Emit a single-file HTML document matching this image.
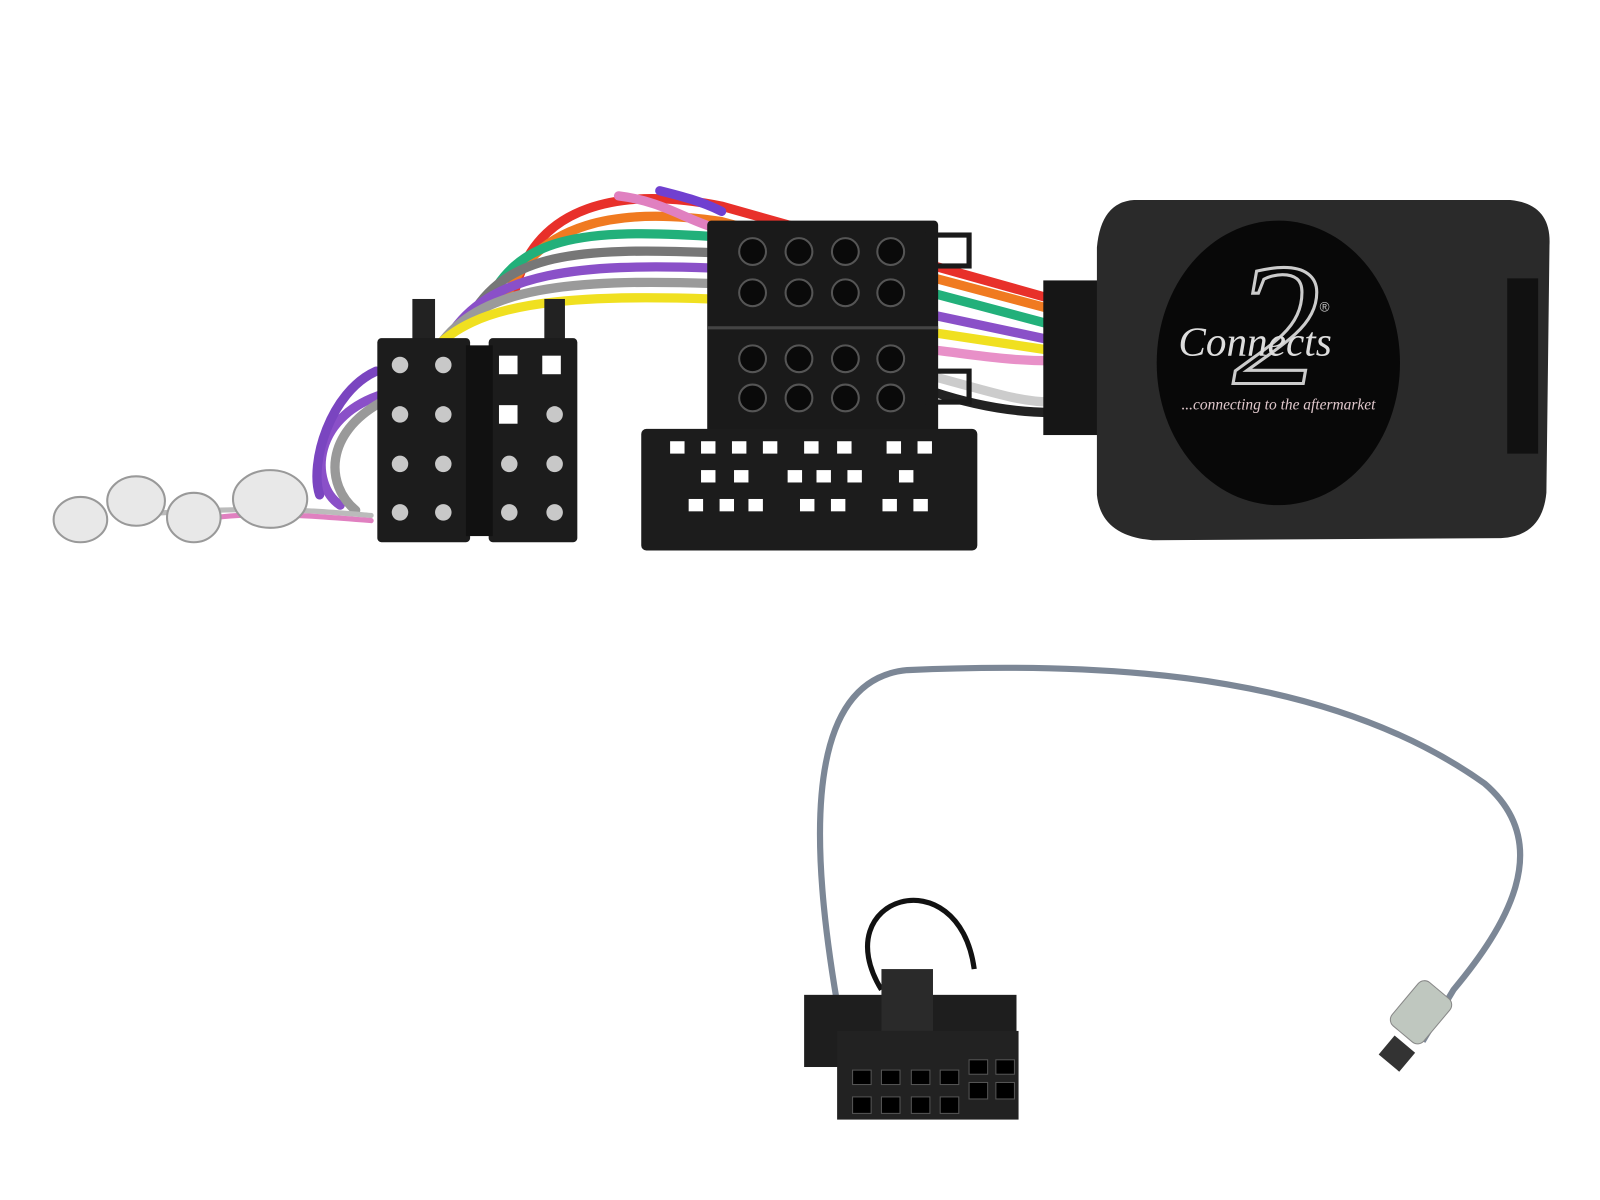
<!DOCTYPE html>
<html><head><meta charset="utf-8"><style>
html,body{margin:0;padding:0;background:#fff;width:1600px;height:1200px;overflow:hidden}
svg{display:block}
</style></head><body>
<svg width="1600" height="1200" viewBox="0 0 1552 1164" xmlns="http://www.w3.org/2000/svg">
<rect width="1552" height="1164" fill="#fff"/>
<!-- wires bundle top -->
<g fill="none" stroke-width="9" stroke-linecap="round">
<path d="M500 280 C520 200,600 180,700 200 L1020 290" stroke="#e8302a"/>
<path d="M490 290 C520 215,600 200,700 215 L1020 300" stroke="#f07a20"/>
<path d="M470 300 C500 230,560 220,700 230 L1020 315" stroke="#22b07a"/>
<path d="M455 310 C490 245,560 240,690 245" stroke="#777"/>
<path d="M440 320 C480 265,560 255,690 260 L1020 330" stroke="#8a50c8"/>
<path d="M430 330 C470 280,550 270,690 275" stroke="#9a9a9a"/>
<path d="M420 340 C460 295,540 285,690 290 L1020 340" stroke="#f0e020"/>
<path d="M600 190 C640 195,660 210,690 220" stroke="#e080c0"/>
<path d="M640 185 C660 190,680 195,700 205" stroke="#7040d0"/>
<path d="M910 340 C950 345,980 350,1020 350" stroke="#e890c8"/>
<path d="M905 380 C950 395,990 400,1020 400" stroke="#222"/>
<path d="M905 365 C960 380,990 390,1020 390" stroke="#ccc"/>
<path d="M380 380 C300 400,300 470,330 490" stroke="#8a50c8"/>
<path d="M370 390 C315 420,315 470,345 495" stroke="#999"/>
<path d="M365 360 C320 380,300 450,310 480" stroke="#7a45c0"/>
<path d="M360 500 C300 495,250 490,120 500" stroke="#bbb" stroke-width="5"/>
<path d="M360 505 C300 500,240 495,190 505" stroke="#e080c0" stroke-width="5"/>
</g>
<!-- terminals -->
<g fill="#e8e8e8" stroke="#999" stroke-width="2">
<ellipse cx="78" cy="504" rx="26" ry="22"/>
<ellipse cx="132" cy="486" rx="28" ry="24"/>
<ellipse cx="188" cy="502" rx="26" ry="24"/>
<ellipse cx="262" cy="484" rx="36" ry="28"/>
</g>
<!-- ISO connectors left -->
<rect x="400" y="290" width="22" height="40" fill="#222"/>
<rect x="528" y="290" width="20" height="40" fill="#222"/>
<rect x="366" y="328" width="90" height="198" rx="4" fill="#1c1c1c"/>
<rect x="474" y="328" width="86" height="198" rx="4" fill="#1c1c1c"/>
<rect x="452" y="335" width="26" height="185" fill="#111"/>
<g fill="#c8c8c8">
<circle cx="388" cy="354" r="8"/><circle cx="430" cy="354" r="8"/>
<circle cx="388" cy="402" r="8"/><circle cx="430" cy="402" r="8"/>
<circle cx="388" cy="450" r="8"/><circle cx="430" cy="450" r="8"/>
<circle cx="388" cy="497" r="8"/><circle cx="430" cy="497" r="8"/>
<circle cx="538" cy="402" r="8"/><circle cx="538" cy="450" r="8"/>
<circle cx="494" cy="450" r="8"/><circle cx="494" cy="497" r="8"/><circle cx="538" cy="497" r="8"/>
</g>
<g fill="#fff"><rect x="484" y="345" width="18" height="18"/><rect x="526" y="345" width="18" height="18"/><rect x="484" y="393" width="18" height="18"/></g>
<!-- quadlock top -->
<rect x="686" y="214" width="224" height="210" rx="4" fill="#1a1a1a"/>
<rect x="900" y="228" width="40" height="30" fill="none" stroke="#1a1a1a" stroke-width="5"/>
<rect x="900" y="360" width="40" height="30" fill="none" stroke="#1a1a1a" stroke-width="5"/>
<line x1="686" y1="318" x2="910" y2="318" stroke="#444" stroke-width="3"/>
<g fill="#0a0a0a" stroke="#555" stroke-width="2">
<circle cx="730" cy="244" r="13"/><circle cx="775" cy="244" r="13"/><circle cx="820" cy="244" r="13"/><circle cx="864" cy="244" r="13"/>
<circle cx="730" cy="284" r="13"/><circle cx="775" cy="284" r="13"/><circle cx="820" cy="284" r="13"/><circle cx="864" cy="284" r="13"/>
<circle cx="730" cy="348" r="13"/><circle cx="775" cy="348" r="13"/><circle cx="820" cy="348" r="13"/><circle cx="864" cy="348" r="13"/>
<circle cx="730" cy="386" r="13"/><circle cx="775" cy="386" r="13"/><circle cx="820" cy="386" r="13"/><circle cx="864" cy="386" r="13"/>
</g>
<!-- quadlock bottom -->
<rect x="622" y="416" width="326" height="118" rx="5" fill="#1c1c1c"/>
<g fill="#fff">
<rect x="650" y="428" width="14" height="12"/><rect x="680" y="428" width="14" height="12"/><rect x="710" y="428" width="14" height="12"/><rect x="740" y="428" width="14" height="12"/><rect x="780" y="428" width="14" height="12"/><rect x="812" y="428" width="14" height="12"/><rect x="860" y="428" width="14" height="12"/><rect x="890" y="428" width="14" height="12"/>
<rect x="680" y="456" width="14" height="12"/><rect x="712" y="456" width="14" height="12"/><rect x="764" y="456" width="14" height="12"/><rect x="792" y="456" width="14" height="12"/><rect x="822" y="456" width="14" height="12"/><rect x="872" y="456" width="14" height="12"/>
<rect x="668" y="484" width="14" height="12"/><rect x="698" y="484" width="14" height="12"/><rect x="726" y="484" width="14" height="12"/><rect x="776" y="484" width="14" height="12"/><rect x="806" y="484" width="14" height="12"/><rect x="856" y="484" width="14" height="12"/><rect x="886" y="484" width="14" height="12"/>
</g>
<!-- interface box -->
<rect x="1012" y="272" width="56" height="150" fill="#161616"/>
<path d="M1100 194 L1465 194 Q1505 198 1503 238 L1500 478 Q1496 520 1456 522 L1118 524 Q1068 520 1064 480 L1064 240 Q1068 196 1100 194Z" fill="#2a2a2a"/>
<rect x="1462" y="270" width="30" height="170" fill="#111"/>
<ellipse cx="1240" cy="352" rx="118" ry="138" fill="#080808"/>
<text x="1196" y="372" font-family="Liberation Serif,serif" font-style="italic" font-size="170" fill="none" stroke="#ccc" stroke-width="3">2</text>
<text x="1143" y="345" font-family="Liberation Serif,serif" font-style="italic" font-size="40" fill="#ddd">Connects</text>
<text x="1280" y="302" font-family="Liberation Sans,sans-serif" font-size="13" fill="#ccc">®</text>
<text x="1146" y="397" font-family="Liberation Serif,serif" font-style="italic" font-size="15" fill="#e0c8cc">...connecting to the aftermarket</text>
<!-- antenna cable -->
<path d="M815 990 C790 850,770 660,880 650 C1100 640,1300 660,1440 760 C1510 820,1460 900,1410 960 L1380 1010" fill="none" stroke="#7c8796" stroke-width="6"/>
<path d="M855 960 C800 870,930 830,945 940" fill="none" stroke="#111" stroke-width="5"/>
<rect x="1342" y="1010" width="26" height="24" fill="#333" transform="rotate(40 1355 1022)"/>
<rect x="1360" y="955" width="40" height="55" rx="8" fill="#bfc7bf" stroke="#888" transform="rotate(40 1380 980)"/>
<!-- 12 pin connector -->
<rect x="780" y="965" width="206" height="70" fill="#1e1e1e"/>
<rect x="855" y="940" width="50" height="60" fill="#2a2a2a"/>
<rect x="812" y="1000" width="176" height="86" fill="#222"/>
<g fill="#000" stroke="#555">
<rect x="827" y="1038" width="18" height="14"/><rect x="855" y="1038" width="18" height="14"/><rect x="884" y="1038" width="18" height="14"/><rect x="912" y="1038" width="18" height="14"/><rect x="940" y="1028" width="18" height="14"/><rect x="966" y="1028" width="18" height="14"/>
<rect x="827" y="1064" width="18" height="16"/><rect x="855" y="1064" width="18" height="16"/><rect x="884" y="1064" width="18" height="16"/><rect x="912" y="1064" width="18" height="16"/><rect x="940" y="1050" width="18" height="16"/><rect x="966" y="1050" width="18" height="16"/>
</g>
</svg>
</body></html>
